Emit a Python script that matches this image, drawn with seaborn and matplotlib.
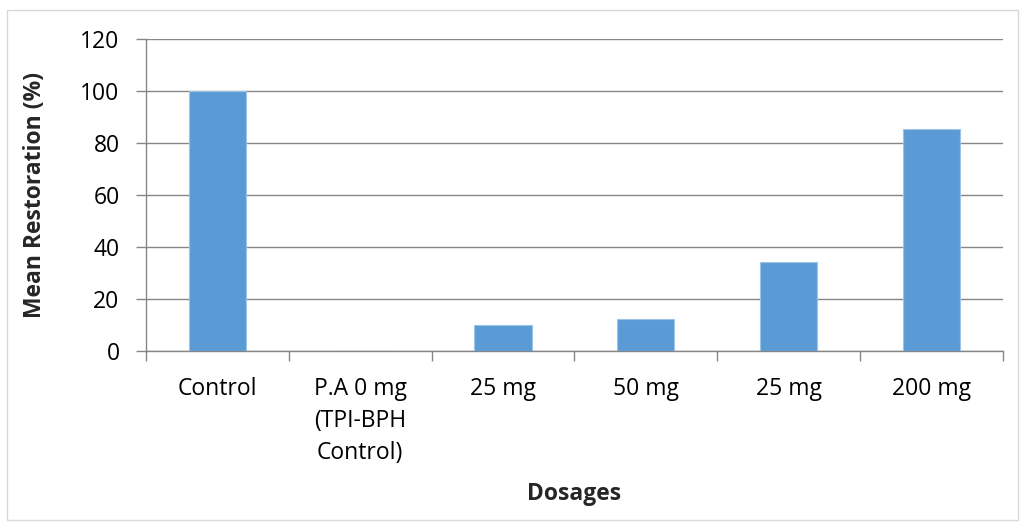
import matplotlib
matplotlib.use("Agg")
import matplotlib.pyplot as plt
import seaborn as sns
import pandas as pd
import numpy as np
from matplotlib.patches import Rectangle

# Dosage groups and their mean restoration values
dosage_labels = ["Control", "P.A 0 mg\n(TPI-BPH\nControl)", "25 mg", "50 mg", "25 mg", "200 mg"]
mean_restoration = [100, 0, 9.8, 12.3, 34.2, 85.3]
y_ticks = [0, 20, 40, 60, 80, 100, 120]

sns.set_theme(style="white")
plt.rcParams["font.family"] = ["Open Sans", "DejaVu Sans"]

# unique slot ids so the repeated "25 mg" label keeps its own bar
df = pd.DataFrame({
    "slot": [f"g{i}" for i in range(len(dosage_labels))],
    "value": mean_restoration,
})

fig = plt.figure(figsize=(10.25, 5.31), dpi=100)
ax = fig.add_axes([0.1424, 0.3397, 0.8361, 0.5869])

axis_grey = "#868686"
fs = 16.5
sns.barplot(data=df, x="slot", y="value", color="#5B9BD5", width=0.4,
            saturation=1, edgecolor="#9DC3E6", linewidth=0.8, ax=ax, zorder=3)

ax.set_ylim(0, 120)
ax.set_yticks(y_ticks)
ax.set_xlim(-0.5, len(dosage_labels) - 0.5)
ax.yaxis.grid(True, color=axis_grey, linewidth=1.0)
ax.set_axisbelow(True)

# category labels centred, boundary ticks between categories
ax.set_xticks(range(len(dosage_labels)))
ax.set_xticklabels(dosage_labels, fontsize=fs, color="black", linespacing=1.45, va="top")
ax.tick_params(axis="x", which="major", length=0, pad=19)
ax.set_xticks(np.arange(-0.5, len(dosage_labels), 1.0), minor=True)
ax.tick_params(axis="x", which="minor", length=7, width=1.0, color=axis_grey, direction="out", bottom=True)
ax.tick_params(axis="y", length=7, width=1.0, color=axis_grey, direction="out", left=True,
               labelsize=fs, labelcolor="black", pad=12)

for side in ["top", "right"]:
    ax.spines[side].set_visible(False)
for side in ["left", "bottom"]:
    ax.spines[side].set_color(axis_grey)
    ax.spines[side].set_linewidth(1.0)
    ax.spines[side].set_visible(True)

ax.set_xlabel("Dosages", fontsize=fs, fontweight="bold", labelpad=12)
ax.set_ylabel("Mean Restoration (%)", fontsize=fs, fontweight="bold", labelpad=24)

# outer chart frame
fig.patches.append(Rectangle((0.007, 0.02), 0.986, 0.962, transform=fig.transFigure,
                             fill=False, edgecolor="#D9D9D9", linewidth=1.0))

fig.savefig("out.png", dpi=100)
